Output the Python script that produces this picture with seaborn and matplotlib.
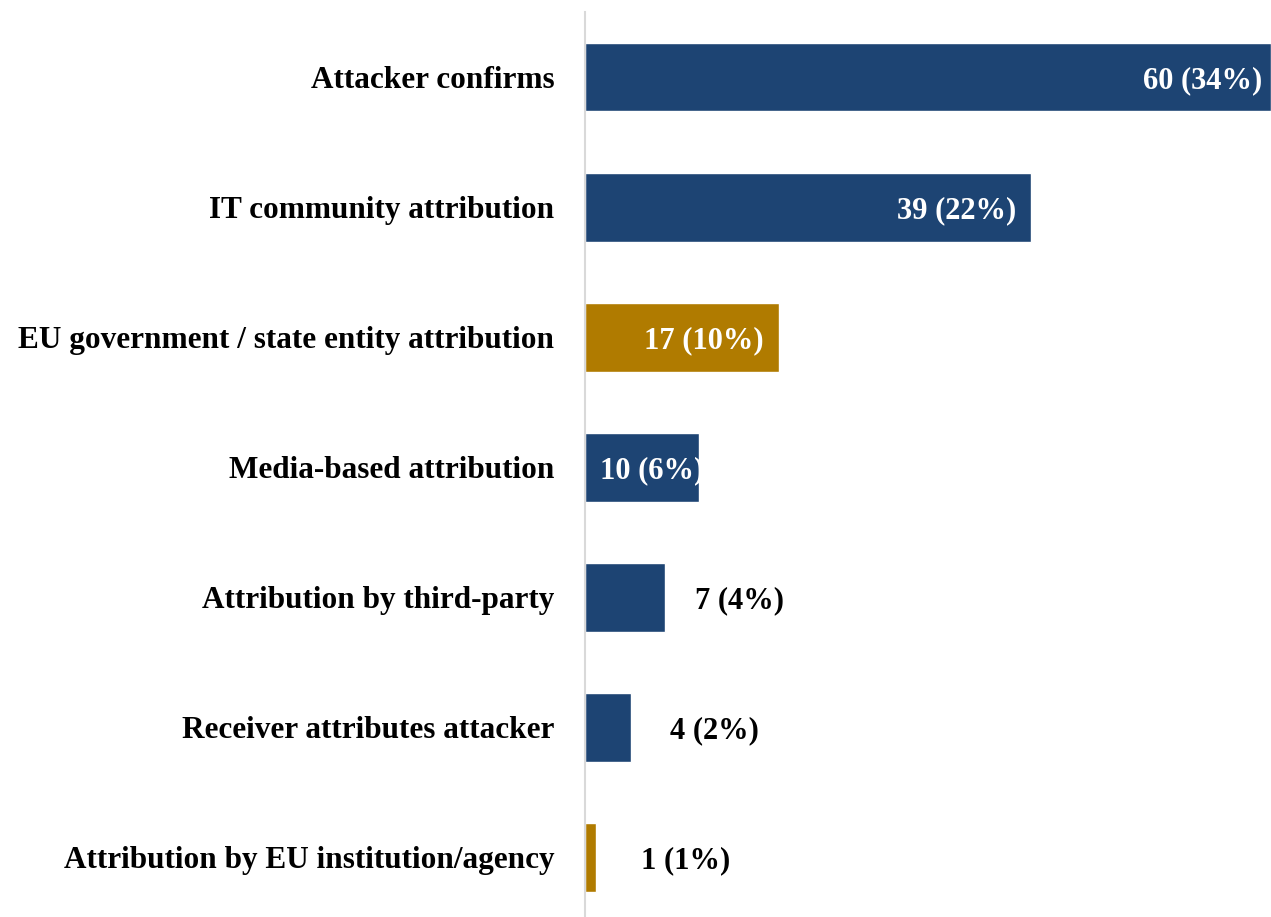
import matplotlib
matplotlib.use("Agg")
import matplotlib.pyplot as plt
import seaborn as sns
import pandas as pd

categories = [
    "Attacker confirms",
    "IT community attribution",
    "EU government / state entity attribution",
    "Media-based attribution",
    "Attribution by third-party",
    "Receiver attributes attacker",
    "Attribution by EU institution/agency",
]
counts = [60, 39, 17, 10, 7, 4, 1]
shares = [34, 22, 10, 6, 4, 2, 1]
bar_colors = ["#1D4473", "#1D4473", "#B07B00", "#1D4473", "#1D4473", "#1D4473", "#B07B00"]

# label placement: inside (white, right-aligned) or outside (black), offset in px
label_inside = [True, True, True, True, False, False, False]
label_offset_px = [9, 15, 16, -5, 30, 39, 45]

sns.set_theme(style="white")
plt.rcParams["font.family"] = ["Liberation Serif", "DejaVu Serif"]
plt.rcParams["font.weight"] = "bold"

W, H, DPI = 1271, 917, 100
fig = plt.figure(figsize=(W / DPI, H / DPI), dpi=DPI)
ax = fig.add_axes([585 / W, 0, 1 - 585 / W, 1 - 12 / H])

df = pd.DataFrame({"category": categories, "count": counts})
sns.barplot(data=df, x="count", y="category", hue="category",
            palette=bar_colors, width=0.53, legend=False, ax=ax,
            saturation=1)

ax.set_xlim(0, 60)
ax.set_ylim(6.46, -0.5)
ax.set_xlabel("")
ax.set_ylabel("")
ax.set_xticks([])
for side in ["top", "right", "bottom"]:
    ax.spines[side].set_visible(False)
ax.spines["left"].set_color("#D9D9D9")
ax.spines["left"].set_linewidth(1.5)
ax.tick_params(axis="y", length=0, pad=22)
for lbl in ax.get_yticklabels():
    lbl.set_fontsize(22.5)
    lbl.set_fontweight("bold")
    lbl.set_color("black")
    lbl.set_verticalalignment("center_baseline")

px_to_pt = 72 / DPI
for i, (c, s) in enumerate(zip(counts, shares)):
    txt = f"{c} ({s}%)"
    if label_inside[i]:
        ax.annotate(txt, xy=(c, i), xytext=(-label_offset_px[i] * px_to_pt, 0),
                    textcoords="offset points", ha="right", va="center_baseline",
                    color="white", fontsize=22, fontweight="bold")
    else:
        ax.annotate(txt, xy=(c, i), xytext=(label_offset_px[i] * px_to_pt, 0),
                    textcoords="offset points", ha="left", va="center_baseline",
                    color="black", fontsize=22, fontweight="bold")

fig.savefig("out.png", dpi=DPI)
